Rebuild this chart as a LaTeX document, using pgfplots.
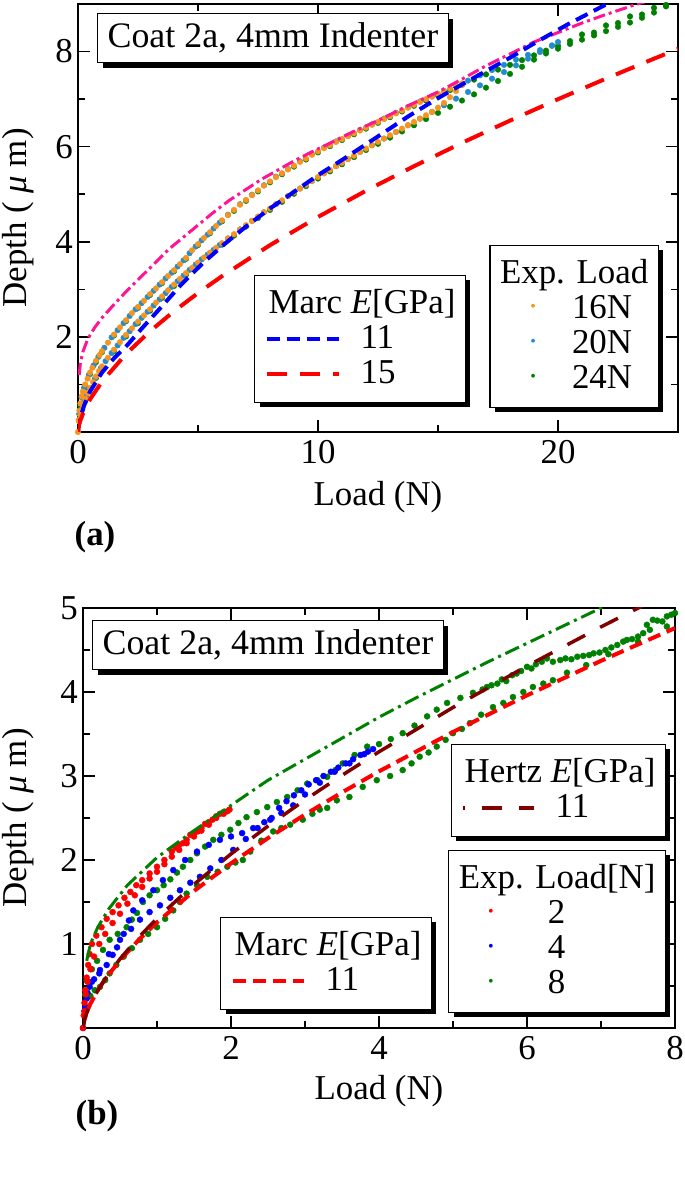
\documentclass[border=0pt]{standalone}
\usepackage{fontspec}
\setmainfont{Liberation Serif}
\usepackage{pgfplots}
\pgfplotsset{compat=1.18}
\usetikzlibrary{shadows}
\definecolor{orangeD}{RGB}{247,148,30}
\definecolor{blueD}{RGB}{35,140,205}
\definecolor{greenD}{RGB}{0,128,0}
\definecolor{pinkD}{RGB}{255,20,147}
\definecolor{darkredD}{RGB}{128,0,0}
\newcommand\bigf{\fontsize{35}{35}\selectfont}
\newcommand\ls{\rule[-8bp]{0pt}{35bp}}
% dot symbol for legend rows: centre at #1 from the row start, text at #1+#2
\newcommand\ldot[3]{\hspace*{#1}\makebox[0pt]{\raisebox{7bp}{\textcolor{#3}{\fontsize{16}{16}\selectfont •}}}\hspace*{#2}}
% line legend images drawn with the basic layer only
\newcommand\legline[6]{%
  \pgfpathrectangle{\pgfpoint{0bp}{-1bp}}{\pgfpoint{#1}{2bp}}\pgfusepath{discard}%
  \begin{pgfscope}\pgfsetlinewidth{#3}\pgfsetstrokecolor{#2}\pgfsetdash{{#4}{#5}}{#6}%
  \pgfpathmoveto{\pgfpointorigin}\pgfpathlineto{\pgfpoint{#1}{0bp}}\pgfusepath{stroke}\end{pgfscope}}
\pgfplotsset{
  base/.style={scale only axis, /pgf/number format/assume math mode=true,
    axis line style={line width=1.5bp},
    every tick/.append style={black, line width=1.5bp},
    major tick length=12bp, minor tick length=7bp, tick align=inside,
    tick label style={font=\bigf, inner sep=2bp},
    xticklabel style={yshift=-6bp}, yticklabel style={xshift=-3bp},
    legend cell align=left,
    legend style={font=\bigf, draw=black, line width=1.2bp, fill=white,
      drop shadow={shadow xshift=5bp, shadow yshift=-5bp, fill=black, opacity=1},
      inner xsep=10bp, inner ysep=11bp, row sep=0bp,
      nodes={inner sep=0bp, text height=27bp, text depth=8bp}},
  },
  dotT/.style={only marks, mark=*, mark size=2.8bp},
  dotB/.style={only marks, mark=*, mark size=3bp},
  topax/.style={base, at={(78bp,754bp)}, anchor=south west, width=600bp, height=428bp,
    xmin=0, xmax=25, ymin=0, ymax=9},
  botax/.style={base, at={(83bp,158bp)}, anchor=south west, width=592bp, height=420bp,
    xmin=0, xmax=8, ymin=0, ymax=5},
}
\begin{document}
\begin{tikzpicture}
\path[use as bounding box] (0,0) rectangle (685bp,1186bp);
% ================= TOP (a) =================
\begin{axis}[topax,
  xtick={0,10,20}, minor xtick={5,15}, ytick={2,4,6,8}, minor ytick={1,3,5,7},
  xlabel={Load (N)}, ylabel={Depth ( \textit{μ} m)},
  every axis x label/.style={at={(axis description cs:0.5,-0.152)}, anchor=center, font=\bigf},
  every axis y label/.style={at={(axis description cs:-0.1,0.5)}, anchor=center, rotate=90, font=\bigf},
  legend style={at={(0.968,0.056)}, anchor=south east, column sep=0bp}]
% 24N green
\addplot[dotT, greenD, forget plot] coordinates {(0.1,0.55) (0.3,0.95) (0.5,1.22) (0.75,1.47) (1.0,1.68) (1.5,2.03) (2.0,2.33) (2.5,2.61) (3.0,2.88) (3.5,3.13) (4.0,3.38) (4.5,3.64) (5.0,3.93) (5.5,4.18) (6.0,4.43) (6.5,4.65) (7.0,4.86) (7.5,5.06) (8.0,5.25) (8.5,5.42) (9.0,5.58) (9.5,5.73) (10.0,5.88) (10.5,6.01) (11.0,6.14) (11.5,6.26) (12.0,6.38) (12.5,6.5) (13.0,6.62) (13.5,6.74) (14.0,6.86) (14.5,6.97) (15.0,7.08) (15.5,7.19) (16.0,7.3) (16.5,7.41) (17.0,7.52) (17.5,7.62) (18.0,7.72) (18.5,7.82) (19.0,7.92) (19.5,8.02) (20.0,8.12) (20.5,8.22) (21.0,8.36) (21.5,8.4) (22.0,8.55) (22.5,8.6) (23.0,8.74) (23.5,8.78) (24.0,8.92) (24.5,8.98)};
\addplot[dotT, greenD, forget plot] coordinates {(0.1,0.3) (0.3,0.66) (0.5,0.9) (0.75,1.14) (1.0,1.35) (1.5,1.7) (2.0,2.01) (2.5,2.29) (3.0,2.55) (3.5,2.82) (4.0,3.07) (4.5,3.31) (5.0,3.53) (5.5,3.74) (6.0,3.94) (6.5,4.13) (7.0,4.32) (7.5,4.5) (8.0,4.67) (8.5,4.84) (9.0,5.01) (9.5,5.17) (10.0,5.33) (10.5,5.48) (11.0,5.63) (11.5,5.78) (12.0,5.93) (12.5,6.06) (13.0,6.19) (13.5,6.32) (14.0,6.45) (14.5,6.58) (15.0,6.71) (15.5,6.84) (16.0,6.97) (16.5,7.1) (17.0,7.24) (17.5,7.38) (18.0,7.53) (18.5,7.68) (19.0,7.83) (19.5,7.96) (20.0,8.06) (20.5,8.16) (21.0,8.25) (21.5,8.34) (22.0,8.43) (22.5,8.52) (23.0,8.61) (23.5,8.71) (24.0,8.82) (24.5,8.95)};
% 20N blue
\addplot[dotT, blueD, forget plot] coordinates {(0.05,0.38) (0.15,0.73) (0.25,0.93) (0.45,1.2) (0.65,1.4) (0.85,1.58) (1.1,1.77) (1.4,1.99) (1.65,2.14) (1.9,2.29) (2.15,2.44) (2.4,2.58) (2.65,2.71) (2.9,2.84) (3.15,2.97) (3.4,3.1) (3.65,3.23) (3.9,3.35) (4.15,3.48) (4.4,3.61) (4.65,3.76) (4.9,3.9) (5.15,4.03) (5.4,4.15) (5.65,4.28) (5.9,4.4) (6.25,4.57) (6.75,4.79) (7.25,4.99) (7.75,5.19) (8.25,5.37) (8.75,5.53) (9.25,5.69) (9.75,5.84) (10.25,5.98) (10.75,6.11) (11.25,6.23) (11.75,6.35) (12.25,6.47) (12.75,6.59) (13.25,6.71) (13.75,6.83) (14.25,6.95) (14.75,7.06) (15.25,7.17) (15.75,7.28) (16.25,7.39) (16.75,7.5) (17.25,7.61) (17.75,7.72) (18.25,7.83) (18.75,7.93) (19.25,8.03) (19.75,8.13) (20.0,8.2)};
\addplot[dotT, blueD, forget plot] coordinates {(0.07,0.27) (0.15,0.46) (0.25,0.63) (0.35,0.76) (0.45,0.88) (0.7,1.12) (0.95,1.34) (1.15,1.49) (1.4,1.66) (1.65,1.82) (1.9,1.98) (2.15,2.12) (2.4,2.27) (2.65,2.4) (2.9,2.53) (3.15,2.66) (3.4,2.79) (3.65,2.92) (3.9,3.05) (4.15,3.17) (4.4,3.29) (4.65,3.41) (4.9,3.52) (5.15,3.63) (5.4,3.73) (5.65,3.83) (5.9,3.93) (6.25,4.07) (6.75,4.26) (7.25,4.44) (7.75,4.62) (8.25,4.79) (8.75,4.96) (9.25,5.12) (9.75,5.28) (10.25,5.44) (10.75,5.59) (11.25,5.74) (11.75,5.89) (12.25,6.03) (12.75,6.17) (13.25,6.31) (13.75,6.45) (14.25,6.59) (14.75,6.73) (15.25,6.87) (15.75,7.01) (16.25,7.15) (16.75,7.29) (17.25,7.43) (17.75,7.57) (18.25,7.71) (18.75,7.85) (19.25,7.99) (19.75,8.12)};
% 16N orange
\addplot[dotT, orangeD, forget plot] coordinates {(0,0) (0.03,0.25) (0.06,0.45) (0.1,0.6) (0.15,0.75) (0.2,0.85) (0.3,1.0) (0.4,1.12) (0.5,1.25) (0.6,1.35) (0.75,1.5) (0.9,1.62) (1.0,1.7) (1.25,1.88) (1.5,2.05) (1.75,2.2) (2.0,2.35) (2.25,2.5) (2.5,2.63) (2.75,2.76) (3.0,2.9) (3.25,3.02) (3.5,3.15) (3.75,3.28) (4.0,3.4) (4.25,3.53) (4.5,3.66) (4.75,3.82) (5.0,3.95) (5.25,4.08) (5.5,4.2) (5.75,4.33) (6.0,4.45) (6.25,4.56) (6.5,4.67) (6.75,4.78) (7.0,4.88) (7.25,4.98) (7.5,5.08) (7.75,5.18) (8.0,5.27) (8.25,5.36) (8.5,5.44) (8.75,5.52) (9.0,5.6) (9.25,5.68) (9.5,5.75) (9.75,5.83) (10.0,5.9) (10.25,5.97) (10.5,6.03) (10.75,6.1) (11.0,6.16) (11.25,6.22) (11.5,6.28) (11.75,6.34) (12.0,6.4) (12.25,6.46) (12.5,6.52) (12.75,6.58) (13.0,6.64) (13.25,6.7) (13.5,6.76) (13.75,6.82) (14.0,6.88) (14.25,6.94) (14.5,7.0) (14.75,7.05) (15.0,7.11) (15.25,7.16) (15.5,7.22) (15.75,7.27) (16.0,7.33)};
\addplot[dotT, orangeD, forget plot] coordinates {(0.05,0.22) (0.1,0.35) (0.2,0.55) (0.3,0.7) (0.4,0.82) (0.5,0.93) (0.625,1.05) (0.75,1.17) (0.875,1.28) (1.0,1.38) (1.25,1.56) (1.5,1.73) (1.75,1.89) (2.0,2.04) (2.25,2.18) (2.5,2.32) (2.75,2.45) (3.0,2.58) (3.25,2.72) (3.5,2.85) (3.75,2.98) (4.0,3.1) (4.25,3.22) (4.5,3.34) (4.75,3.45) (5.0,3.56) (5.25,3.67) (5.5,3.77) (5.75,3.87) (6.0,3.97) (6.25,4.07) (6.5,4.16) (6.75,4.26) (7.0,4.35) (7.25,4.44) (7.5,4.53) (7.75,4.62) (8.0,4.7) (8.25,4.79) (8.5,4.87) (8.75,4.96) (9.0,5.04) (9.25,5.12) (9.5,5.2) (9.75,5.28) (10.0,5.36) (10.25,5.44) (10.5,5.51) (10.75,5.59) (11.0,5.66) (11.25,5.74) (11.5,5.81) (11.75,5.89) (12.0,5.96) (12.25,6.03) (12.5,6.1) (12.75,6.17) (13.0,6.24) (13.25,6.31) (13.5,6.38) (13.75,6.45) (14.0,6.52) (14.25,6.59) (14.5,6.66) (14.75,6.73) (15.0,6.82) (15.25,6.92) (15.5,7.04) (15.75,7.17) (16.0,7.3)};
\addlegendimage{empty legend}\addlegendentry{\ls Exp. Load}
\addlegendimage{empty legend}\addlegendentry{\ls\ldot{33bp}{39bp}{orangeD}16N}
\addlegendimage{empty legend}\addlegendentry{\ls\ldot{33bp}{39bp}{blueD}20N}
\addlegendimage{empty legend}\addlegendentry{\ls\ldot{33bp}{39bp}{greenD}24N}
\end{axis}
\begin{axis}[topax, hide axis,
  legend style={at={(0.2933,0.0678)}, anchor=south west, column sep=20bp}]
\addplot[pinkD, line width=3bp, dash pattern=on 12bp off 4bp on 3bp off 4bp, forget plot] coordinates {(0.05,1.2) (0.1,1.45) (0.2,1.68) (0.4,1.95) (0.7,2.2) (1.0,2.4) (1.5,2.68) (2.0,2.95) (2.6,3.25) (3.2,3.55) (3.8,3.85) (4.4,4.1) (5.0,4.35) (5.6,4.6) (6.3,4.87) (7.0,5.1) (7.6,5.3) (8.3,5.5) (9.0,5.7) (9.7,5.88) (10.4,6.05) (11.4,6.3) (12.5,6.55) (13.7,6.85) (15.0,7.15) (16.0,7.42) (17.0,7.7) (18.0,7.95) (19.0,8.2) (20.0,8.4) (21.0,8.6) (22.0,8.78) (23.3,9.0) (24.0,9.1)};
\addplot[blue, line width=4bp, dash pattern=on 13bp off 7bp, forget plot] coordinates {(0,0) (0.05,0.2) (0.1,0.3) (0.25,0.55) (0.5,0.85) (1.0,1.25) (1.5,1.55) (2.04,1.82) (2.7,2.2) (3.42,2.6) (4.3,3.1) (5.2,3.55) (6.1,3.95) (7.0,4.32) (8.0,4.7) (9.0,5.05) (10.0,5.4) (11.0,5.72) (12.0,6.05) (12.6,6.25) (13.8,6.65) (15.1,7.05) (16.5,7.45) (18.0,7.87) (19.0,8.17) (20.4,8.57) (22.0,8.99) (23.0,9.25)};
\addplot[red, line width=4bp, dash pattern=on 20bp off 13bp, forget plot] coordinates {(0,0) (0.02,0.09) (0.05,0.161) (0.1,0.248) (0.25,0.443) (0.5,0.685) (1,1.06) (2,1.64) (3,2.118) (4,2.539) (5,2.922) (6,3.277) (8,3.929) (10,4.522) (12,5.073) (14,5.589) (16,6.08) (18,6.548) (20,6.998) (22,7.431) (24,7.85) (25,8.054)};
\addlegendimage{empty legend}\addlegendentry{\ls\hspace*{-92bp}Marc \textit{E}[GPa]}
\addlegendimage{legend image code/.code={\legline{72bp}{blue}{4bp}{13bp}{7bp}{0bp}}}\addlegendentry{\ls 11}
\addlegendimage{legend image code/.code={\legline{72bp}{red}{4bp}{20bp}{13bp}{0bp}}}\addlegendentry{\ls 15}
\end{axis}
% ================= BOTTOM (b) =================
\begin{axis}[botax,
  xtick={0,2,4,6,8}, minor xtick={1,3,5,7}, ytick={1,2,3,4,5}, minor ytick={0.5,1.5,2.5,3.5,4.5},
  xlabel={Load (N)}, ylabel={Depth ( \textit{μ} m)},
  every axis x label/.style={at={(axis description cs:0.5,-0.15)}, anchor=center, font=\bigf},
  every axis y label/.style={at={(axis description cs:-0.11,0.5)}, anchor=center, rotate=90, font=\bigf},
  legend style={at={(0.9848,0.0357)}, anchor=south east, column sep=0bp}]
% 8N green
\addplot[dotB, greenD, forget plot] coordinates {(0.03,0.4) (0.05,0.57) (0.12,0.7) (0.19,0.8) (0.27,0.93) (0.36,1.05) (0.47,1.12) (0.59,1.2) (0.66,1.29) (0.73,1.37) (0.81,1.5) (0.9,1.58) (1.0,1.64) (1.09,1.7) (1.18,1.77) (1.27,1.85) (1.35,1.92) (1.45,2.0) (1.54,2.08) (1.65,2.16) (1.76,2.24) (1.87,2.3) (1.99,2.36) (2.1,2.44) (2.21,2.51) (2.35,2.57) (2.49,2.63) (2.62,2.69) (2.76,2.75) (2.9,2.83) (3.03,2.91) (3.17,2.95) (3.3,2.99) (3.41,3.07) (3.51,3.15) (3.67,3.25) (3.84,3.35) (4.0,3.38) (4.16,3.44) (4.32,3.51) (4.48,3.6) (4.65,3.71) (4.78,3.79) (4.92,3.87) (5.1,3.93) (5.27,3.99) (5.4,4.03) (5.46,4.06) (5.52,4.08) (5.6,4.1) (5.66,4.15) (5.72,4.13) (5.8,4.2) (5.86,4.22) (5.92,4.25) (6.0,4.3) (6.06,4.28) (6.12,4.33) (6.2,4.36) (6.27,4.4) (6.35,4.36) (6.45,4.38) (6.52,4.4) (6.6,4.39) (6.68,4.42) (6.76,4.43) (6.84,4.44) (6.9,4.46) (6.98,4.47) (7.06,4.5) (7.14,4.53) (7.22,4.56) (7.3,4.6) (7.35,4.62) (7.42,4.63) (7.5,4.66) (7.57,4.7) (7.62,4.8) (7.66,4.74) (7.7,4.86) (7.76,4.85) (7.83,4.84) (7.89,4.9) (7.95,4.92) (8.0,4.94)};
\addplot[dotB, greenD, forget plot] coordinates {(0.04,0.25) (0.1,0.38) (0.16,0.45) (0.23,0.49) (0.3,0.57) (0.36,0.65) (0.45,0.75) (0.55,0.85) (0.66,0.95) (0.77,1.05) (0.88,1.12) (1.0,1.2) (1.11,1.3) (1.22,1.4) (1.31,1.5) (1.4,1.6) (1.54,1.7) (1.68,1.8) (1.82,1.86) (1.95,1.92) (2.06,1.97) (2.16,2.0) (2.26,2.1) (2.41,2.23) (2.57,2.34) (2.68,2.38) (2.8,2.42) (2.97,2.48) (3.1,2.55) (3.2,2.6) (3.3,2.62) (3.43,2.71) (3.6,2.75) (3.78,2.87) (3.97,2.95) (4.15,3.0) (4.32,3.07) (4.44,3.15) (4.55,3.23) (4.67,3.28) (4.78,3.35) (4.9,3.43) (5.0,3.51) (5.12,3.56) (5.23,3.63) (5.38,3.73) (5.54,3.82) (5.68,3.87) (5.81,3.94) (5.95,4.0) (6.08,4.06) (6.22,4.1) (6.35,4.14) (6.54,4.23) (6.8,4.32) (7.1,4.45) (7.5,4.6) (7.89,4.78)};
% 4N blue
\addplot[dotB, blue, forget plot] coordinates {(0,0) (0.02,0.2) (0.05,0.35) (0.09,0.49) (0.15,0.58) (0.22,0.65) (0.32,0.75) (0.4,0.87) (0.46,0.96) (0.55,1.12) (0.62,1.28) (0.68,1.4) (0.8,1.52) (0.95,1.64) (1.08,1.76) (1.22,1.88) (1.38,2.0) (1.54,2.1) (1.7,2.18) (1.85,2.24) (2.0,2.28) (2.15,2.32) (2.3,2.38) (2.45,2.45) (2.55,2.5) (2.65,2.62) (2.75,2.7) (2.85,2.77) (2.95,2.83) (3.05,2.9) (3.15,2.95) (3.25,3.0) (3.35,3.05) (3.45,3.1) (3.55,3.15) (3.65,3.2) (3.75,3.25) (3.85,3.29) (3.92,3.32)};
\addplot[dotB, blue, forget plot] coordinates {(0.03,0.25) (0.06,0.42) (0.12,0.55) (0.23,0.69) (0.35,0.88) (0.5,1.05) (0.65,1.18) (0.77,1.29) (0.9,1.38) (1.04,1.46) (1.18,1.55) (1.31,1.64) (1.45,1.73) (1.58,1.8) (1.72,1.9) (1.87,2.0) (2.03,2.12) (2.2,2.25) (2.36,2.38) (2.53,2.48) (2.68,2.56) (2.84,2.65) (3.0,2.78) (3.2,2.92) (3.4,3.05) (3.6,3.15) (3.8,3.26)};
% 2N red
\addplot[dotB, red, forget plot] coordinates {(0,0) (0.01,0.15) (0.02,0.3) (0.03,0.45) (0.05,0.6) (0.07,0.75) (0.09,0.88) (0.12,1.0) (0.18,1.1) (0.25,1.2) (0.32,1.3) (0.4,1.38) (0.48,1.46) (0.56,1.55) (0.64,1.62) (0.72,1.7) (0.8,1.76) (0.9,1.84) (1.0,1.92) (1.1,2.0) (1.2,2.1) (1.25,2.15) (1.3,2.18) (1.35,2.2) (1.4,2.24) (1.45,2.3) (1.5,2.32) (1.55,2.34) (1.6,2.38) (1.65,2.43) (1.7,2.45) (1.75,2.48) (1.8,2.52) (1.85,2.55) (1.9,2.57) (1.95,2.58) (1.98,2.6)};
\addplot[dotB, red, forget plot] coordinates {(0.02,0.2) (0.04,0.4) (0.06,0.55) (0.1,0.7) (0.15,0.85) (0.22,1.0) (0.3,1.12) (0.4,1.25) (0.5,1.36) (0.6,1.48) (0.7,1.58) (0.8,1.68) (0.9,1.78) (1.0,1.86) (1.1,1.95) (1.2,2.04) (1.3,2.12) (1.4,2.2) (1.5,2.28) (1.6,2.35) (1.7,2.42) (1.8,2.5) (1.9,2.55)};
\addlegendimage{empty legend}\addlegendentry{\ls Exp. Load[N]}
\addlegendimage{empty legend}\addlegendentry{\ls\ldot{32bp}{57bp}{red}2}
\addlegendimage{empty legend}\addlegendentry{\ls\ldot{32bp}{57bp}{blue}4}
\addlegendimage{empty legend}\addlegendentry{\ls\ldot{32bp}{57bp}{greenD}8}
\end{axis}
\begin{axis}[botax, hide axis,
  legend style={at={(0.2314,0.0429)}, anchor=south west, column sep=20bp}]
\addplot[red, line width=4bp, dash pattern=on 13bp off 7bp, forget plot] coordinates {(0,0) (0.02,0.103) (0.05,0.185) (0.1,0.288) (0.2,0.449) (0.3,0.582) (0.5,0.807) (0.75,1.046) (1,1.258) (1.5,1.631) (2,1.96) (2.5,2.261) (3,2.541) (3.5,2.805) (4,3.055) (5,3.524) (6,3.96) (7,4.371) (8,4.761)};
\addlegendimage{empty legend}\addlegendentry{\ls\hspace*{-91bp}Marc \textit{E}[GPa]}
\addlegendimage{legend image code/.code={\legline{71bp}{red}{4bp}{13bp}{7bp}{0bp}}}\addlegendentry{\ls 11}
\end{axis}
\begin{axis}[botax, hide axis,
  legend style={at={(0.9848,0.4548)}, anchor=south east, column sep=20bp}]
\addplot[greenD, line width=3bp, dash pattern=on 15bp off 5bp on 3bp off 5bp, forget plot] coordinates {(0.05,0.8) (0.1,1.0) (0.2,1.2) (0.35,1.42) (0.6,1.7) (1.0,2.03) (1.5,2.35) (2.0,2.65) (2.5,2.95) (3.0,3.2) (3.5,3.45) (4.0,3.7) (4.5,3.93) (5.0,4.15) (5.5,4.37) (6.0,4.58) (6.5,4.79) (7.0,5.0) (7.1,5.04)};
\addplot[darkredD, line width=3.5bp, dash pattern=on 20bp off 17bp, forget plot] coordinates {(0,0) (0.02,0.096) (0.05,0.177) (0.1,0.281) (0.2,0.446) (0.3,0.585) (0.5,0.822) (0.75,1.077) (1,1.305) (1.5,1.71) (2,2.072) (2.5,2.404) (3,2.715) (3.5,3.008) (4,3.288) (5,3.816) (6,4.309) (7,4.775) (7.6,5.044)};
\addlegendimage{empty legend}\addlegendentry{\ls\hspace*{-91bp}Hertz \textit{E}[GPa]}
\addlegendimage{legend image code/.code={\legline{71bp}{darkredD}{3.5bp}{20bp}{17bp}{18bp}}}\addlegendentry{\ls 11}
\end{axis}
% ================= annotations =================
\node[draw, line width=1.2bp, fill=white, drop shadow={shadow xshift=5bp, shadow yshift=-5bp, fill=black, opacity=1},
  inner xsep=10bp, inner ysep=7bp, anchor=north west, font=\fontsize{36}{36}\selectfont] at (97bp,1173bp) {\ls Coat 2a, 4mm Indenter};
\node[draw, line width=1.2bp, fill=white, drop shadow={shadow xshift=5bp, shadow yshift=-5bp, fill=black, opacity=1},
  inner xsep=10bp, inner ysep=7bp, anchor=north west, font=\fontsize{36}{36}\selectfont] at (92bp,566bp) {\ls Coat 2a, 4mm Indenter};
\node[font=\bigf\bfseries] at (95bp,649bp) {(a)};
\node[font=\bigf\bfseries] at (97bp,70bp) {(b)};
\end{tikzpicture}
\end{document}
